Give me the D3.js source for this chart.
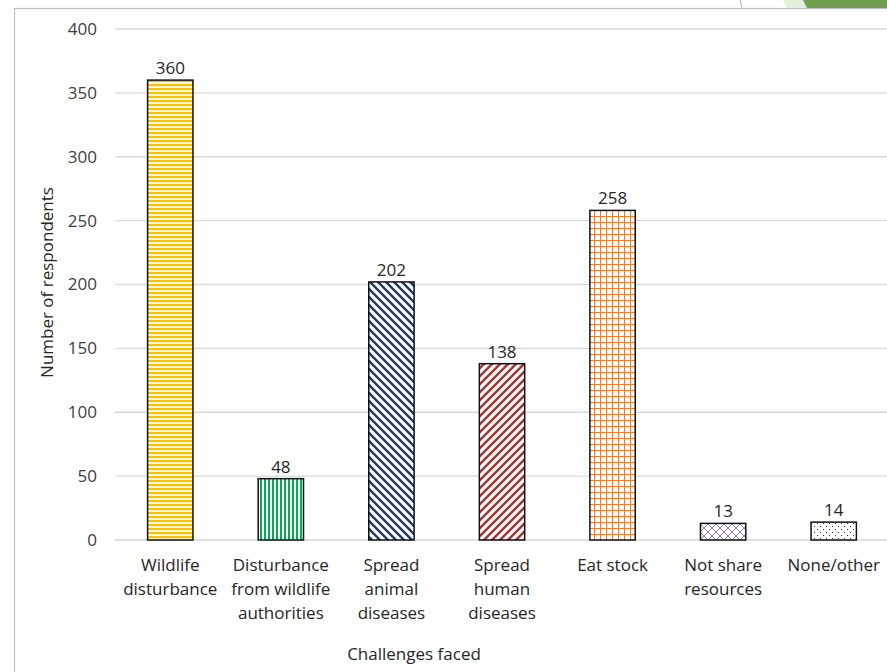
<!DOCTYPE html>
<html>
<head>
<meta charset="utf-8">
<script src="https://cdn.jsdelivr.net/npm/d3@7"></script>
<style>
  body { margin: 0; background: #fff; }
  svg { display: block; font-family: "Open Sans", sans-serif; }
</style>
</head>
<body>
<div class="canvas"></div>
<script>
let categories = ['Wildlife disturbance', 'Disturbance from wildlife authorities', 'Spread animal diseases', 'Spread human diseases', 'Eat stock', 'Not share resources', 'None/other'];
let tickLines = [
  ['Wildlife', 'disturbance'],
  ['Disturbance', 'from wildlife', 'authorities'],
  ['Spread', 'animal', 'diseases'],
  ['Spread', 'human', 'diseases'],
  ['Eat stock'],
  ['Not share', 'resources'],
  ['None/other']
];
let counts = [360, 48, 202, 138, 258, 13, 14];
let yTicks = [0, 50, 100, 150, 200, 250, 300, 350, 400];
let patternIds = ['p-hstripe', 'p-vstripe', 'p-ddiag', 'p-udiag', 'p-grid', 'p-trellis', 'p-dots'];

let width = 887, height = 672;
const margin = { top: 29, right: -2, bottom: 132, left: 115 };
let fontSize = '17px';

let svg = d3.select('.canvas').append('svg')
  .attr('width', width)
  .attr('height', height);

// slide decoration in the corner
svg.append('rect').attr('x', 14.5).attr('y', 8.5).attr('width', 900).attr('height', 700)
  .attr('fill', 'none').attr('stroke', '#bfbfbf').attr('stroke-width', 1.2);
svg.append('line').attr('x1', 740).attr('y1', 0).attr('x2', 742).attr('y2', 8)
  .attr('stroke', '#bfbfbf').attr('stroke-width', 1.2);
svg.append('polygon').attr('points', '783,0 805,0 807,8 787,8').attr('fill', '#e2efd9');
svg.append('polygon').attr('points', '803,0 887,0 887,8 807,8').attr('fill', '#70a04f');

// patterns
let defs = svg.append('defs');
function pat(id, w, h) {
  let p = defs.append('pattern').attr('id', id).attr('patternUnits', 'userSpaceOnUse')
    .attr('width', w).attr('height', h);
  p.append('rect').attr('width', w).attr('height', h).attr('fill', '#fff');
  return p;
}
pat('p-hstripe', 4, 4).append('rect').attr('y', 0).attr('width', 4).attr('height', 2.2).attr('fill', '#ffc000');
pat('p-vstripe', 4, 4).append('rect').attr('x', 0).attr('width', 2).attr('height', 4).attr('fill', '#00b050');
let dd = pat('p-ddiag', 8, 8);
dd.append('path').attr('d', 'M-2,-2 L10,10 M-2,6 L2,10 M6,-2 L10,2').attr('stroke', '#1f3864').attr('stroke-width', 2.4);
let ud = pat('p-udiag', 8, 8);
ud.append('path').attr('d', 'M-2,10 L10,-2 M-2,2 L2,-2 M6,10 L10,6').attr('stroke', '#a5302d').attr('stroke-width', 2.4);
let gr = pat('p-grid', 6, 6);
gr.append('path').attr('d', 'M0,0.5 H6 M0.5,0 V6').attr('stroke', '#ed7d31').attr('stroke-width', 1.2);
let tr = pat('p-trellis', 8, 8);
tr.append('path').attr('d', 'M0,0 L8,8 M8,0 L0,8').attr('stroke', '#8e7cc3').attr('stroke-width', 1);
let dt = pat('p-dots', 6, 6);
dt.append('rect').attr('x', 1).attr('y', 1).attr('width', 1).attr('height', 1).attr('fill', '#333');
dt.append('rect').attr('x', 4).attr('y', 4).attr('width', 1).attr('height', 1).attr('fill', '#333');

// scales
let xScale = d3.scaleBand()
  .domain(categories)
  .range([margin.left, width - margin.right])
  .paddingInner(0.59)
  .paddingOuter(0.295);

let yScale = d3.scaleLinear()
  .domain([0, 400])
  .range([height - margin.bottom, margin.top]);

// grid lines
svg.append('g').selectAll('line')
  .data(yTicks)
  .enter()
  .append('line')
  .attr('x1', margin.left)
  .attr('x2', width)
  .attr('y1', d => yScale(d))
  .attr('y2', d => yScale(d))
  .attr('stroke', '#d9d9d9')
  .attr('stroke-width', 1.3);

// y axis labels
let yAxis = svg.append('g')
  .attr('transform', `translate(${margin.left - 18}, 0)`)
  .call(d3.axisLeft(yScale).tickValues(yTicks).tickSize(0).tickPadding(0));
yAxis.select('.domain').remove();
yAxis.selectAll('text').attr('font-size', fontSize).attr('fill', '#404040')
  .attr('font-family', '"Open Sans", sans-serif');

// bars
svg.append('g').selectAll('rect')
  .data(counts)
  .enter()
  .append('rect')
  .attr('x', (d, i) => xScale(categories[i]))
  .attr('y', d => yScale(d))
  .attr('width', xScale.bandwidth())
  .attr('height', d => yScale(0) - yScale(d))
  .attr('fill', (d, i) => `url(#${patternIds[i]})`)
  .attr('stroke', '#111')
  .attr('stroke-width', 1.5);

// value labels
svg.append('g').selectAll('text')
  .data(counts)
  .enter()
  .append('text')
  .attr('x', (d, i) => xScale(categories[i]) + xScale.bandwidth() / 2)
  .attr('y', d => yScale(d) - 6)
  .attr('text-anchor', 'middle')
  .attr('font-size', fontSize)
  .attr('fill', '#262626')
  .text(d => d);

// x category labels
let xLabels = svg.append('g').selectAll('text')
  .data(tickLines)
  .enter()
  .append('text')
  .attr('x', (d, i) => xScale(categories[i]) + xScale.bandwidth() / 2)
  .attr('y', 571)
  .attr('text-anchor', 'middle')
  .attr('font-size', fontSize)
  .attr('fill', '#262626');
xLabels.selectAll('tspan')
  .data(d => d)
  .enter()
  .append('tspan')
  .attr('x', function () { return d3.select(this.parentNode).attr('x'); })
  .attr('dy', (d, i) => i === 0 ? 0 : 24)
  .text(d => d);

// axis titles
svg.append('text')
  .attr('x', 414)
  .attr('y', 660)
  .attr('text-anchor', 'middle')
  .attr('font-size', fontSize)
  .attr('fill', '#262626')
  .text('Challenges faced');

svg.append('text')
  .attr('transform', 'rotate(-90)')
  .attr('x', -yScale(200) + 2)
  .attr('y', 53)
  .attr('text-anchor', 'middle')
  .attr('font-size', fontSize)
  .attr('fill', '#262626')
  .text('Number of respondents');
</script>
</body>
</html>
